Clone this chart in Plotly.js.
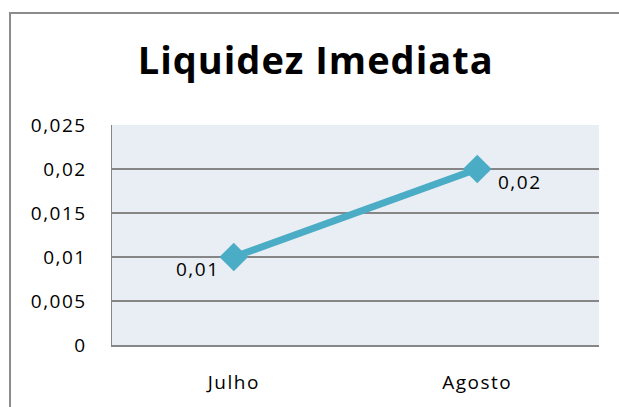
<!DOCTYPE html>
<html>
<head>
<meta charset="utf-8">
<script src="https://cdn.plot.ly/plotly-3.0.1.min.js"></script>
<style>
html,body{margin:0;padding:0;background:#fff;}
#chart{width:619px;height:407px;}
#chart .xtick text, #chart .ytick text, #chart .annotation-text {letter-spacing:1.5px;}
#chart .gtitle {letter-spacing:1px;}
</style>
</head>
<body>
<div id="chart"></div>
<script>
const categories = ["Julho", "Agosto"];
const values = [0.01, 0.02];
const valueLabels = ["0,01", "0,02"];
const yTickVals = [0, 0.005, 0.01, 0.015, 0.02, 0.025];
const yTickText = ["0", "0,005", "0,01", "0,015", "0,02", "0,025"];
const chartTitle = "Liquidez Imediata";

const font = "'Open Sans', Lato, sans-serif";
const labelFont = {family: font, size: 19, color: "#000"};

const trace = {
  x: categories,
  y: values,
  type: "scatter",
  mode: "lines+markers",
  line: {color: "#4BACC6", width: 7},
  marker: {symbol: "diamond", size: 22, color: "#4BACC6"},
  cliponaxis: false,
  hoverinfo: "none"
};

const labelPlacement = [
  {xanchor: "right", xshift: -15, yshift: -12},
  {xanchor: "left", xshift: 22, yshift: -13}
];

const annotations = categories.map((c, i) => ({
  x: c, y: values[i], xref: "x", yref: "y",
  text: valueLabels[i],
  showarrow: false,
  xanchor: labelPlacement[i].xanchor,
  yanchor: "middle",
  xshift: labelPlacement[i].xshift,
  yshift: labelPlacement[i].yshift,
  font: labelFont
}));

const layout = {
  width: 619,
  height: 407,
  margin: {l: 112, r: 20, t: 125, b: 62},
  paper_bgcolor: "#ffffff",
  plot_bgcolor: "#E8EEF3",
  showlegend: false,
  title: {
    text: "<b>" + chartTitle + "</b>",
    font: {family: font, size: 38, color: "#000"},
    x: 0.51, xanchor: "center",
    y: 0.85, yanchor: "middle"
  },
  xaxis: {
    type: "category",
    range: [-0.5, 1.5],
    showgrid: false,
    showline: true,
    linecolor: "#868686",
    linewidth: 1.5,
    ticks: "",
    ticklabelstandoff: 20,
    tickfont: labelFont,
    fixedrange: true
  },
  yaxis: {
    range: [0, 0.025],
    tickvals: yTickVals,
    ticktext: yTickText,
    showgrid: true,
    gridcolor: "#868686",
    gridwidth: 1.5,
    showline: true,
    linecolor: "#868686",
    linewidth: 1.5,
    zeroline: false,
    ticks: "",
    ticklabelstandoff: 20,
    tickfont: labelFont,
    fixedrange: true
  },
  annotations: annotations,
  shapes: [{
    type: "rect",
    xref: "paper", yref: "paper",
    x0: -0.2094, x1: 1.1, y0: -0.35, y1: 1.509,
    line: {color: "#8C8C8C", width: 2},
    fillcolor: "rgba(0,0,0,0)",
    layer: "below"
  }]
};

Plotly.newPlot("chart", [trace], layout, {displayModeBar: false, staticPlot: true});
</script>
</body>
</html>
